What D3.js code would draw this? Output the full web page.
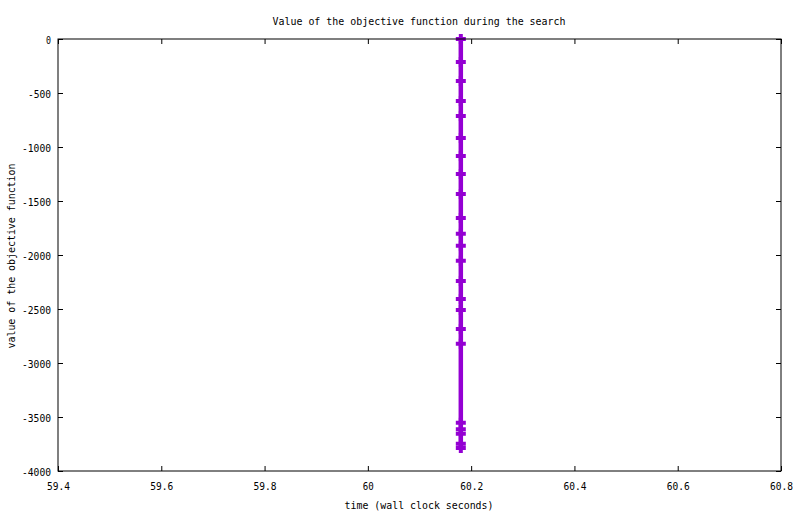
<!DOCTYPE html>
<html>
<head>
<meta charset="utf-8">
<script src="https://cdn.jsdelivr.net/npm/d3@7"></script>
<style>
  body { margin: 0; background: #fff; }
  text { font-family: "DejaVu Sans Mono", monospace; font-size: 11px; fill: #000; }
</style>
</head>
<body>
<script>
// objective value at each improvement, all recorded at ~60.18 s
var times = [60.18, 60.18, 60.18, 60.18, 60.18, 60.18, 60.18, 60.18, 60.18, 60.18, 60.18, 60.18,
             60.18, 60.18, 60.18, 60.18, 60.18, 60.18, 60.18, 60.18, 60.18, 60.18, 60.18];
var objective = [0, -213, -389, -574, -713, -917, -1083, -1250, -1435, -1657, -1803, -1914,
                 -2053, -2241, -2407, -2509, -2685, -2821, -3553, -3614, -3655, -3747, -3787];
var xTicks = [59.4, 59.6, 59.8, 60, 60.2, 60.4, 60.6, 60.8];
var yTicks = [0, -500, -1000, -1500, -2000, -2500, -3000, -3500, -4000];

var W = 800, H = 514;
// note: "top" is taken by window.top, so the plot box gets its own names
var plotL = 58, plotR = 781, plotT = 39, plotB = 471;

var svg = d3.select('body').append('svg')
            .attr('width', W)
            .attr('height', H);

var x = d3.scaleLinear().domain([59.4, 60.8]).range([plotL, plotR]);
var y = d3.scaleLinear().domain([-4000, 0]).range([plotB, plotT]);

var pts = objective.map(function (v, i) { return { t: times[i], v: v }; });

// squeeze the wide glyphs into gnuplot's 6px cells
var fit = function (sel) {
  sel.attr('textLength', function () { return this.textContent.length * 6 - 1; })
     .attr('lengthAdjust', 'spacingAndGlyphs');
};

// the data line and its + markers
svg.append('path')
   .datum(pts)
   .attr('fill', 'none')
   .attr('stroke', '#9400d3')
   .attr('stroke-width', 4.5)
   .attr('d', d3.line().x(function (d) { return x(d.t); }).y(function (d) { return y(d.v); }));

svg.selectAll('.pt')
   .data(pts)
   .enter().append('path')
   .attr('class', 'pt')
   .attr('fill', 'none')
   .attr('stroke', '#9400d3')
   .attr('stroke-width', 4)
   .attr('d', function (d) {
     var cx = x(d.t), cy = y(d.v);
     return 'M' + (cx - 5) + ',' + cy + 'H' + (cx + 5) + 'M' + cx + ',' + (cy - 5) + 'V' + (cy + 5);
   });

// border
svg.append('rect')
   .attr('x', plotL).attr('y', plotT)
   .attr('width', plotR - plotL).attr('height', plotB - plotT)
   .attr('fill', 'none').attr('stroke', '#000').attr('stroke-width', 1);

var fmtX = function (d) { return String(+d.toFixed(1)); };

var gx = svg.append('g').attr('transform', 'translate(0,' + plotB + ')')
            .call(d3.axisBottom(x).tickValues(xTicks).tickFormat(fmtX).tickSizeInner(-5).tickSizeOuter(0));
svg.append('g').attr('transform', 'translate(0,' + plotT + ')')
   .call(d3.axisTop(x).tickValues(xTicks).tickFormat('').tickSizeInner(-5).tickSizeOuter(0));
var gy = svg.append('g').attr('transform', 'translate(' + plotL + ',0)')
            .call(d3.axisLeft(y).tickValues(yTicks).tickFormat(d3.format('d')).tickSizeInner(-5).tickSizeOuter(0).tickPadding(7));
svg.append('g').attr('transform', 'translate(' + plotR + ',0)')
   .call(d3.axisRight(y).tickValues(yTicks).tickFormat('').tickSizeInner(-5).tickSizeOuter(0));

svg.selectAll('.domain').remove();
svg.selectAll('.tick line').attr('stroke', '#000');
svg.selectAll('.tick text').attr('font-family', null).attr('font-size', null);
gx.selectAll('.tick text').attr('dy', null).attr('y', 19).call(fit);
gy.selectAll('.tick text').attr('dy', null).attr('y', 4)
  .text(function (d) { return d === 0 ? '0' : '-' + Math.abs(d); }).call(fit);

// titles
svg.append('text')
   .attr('x', 419).attr('y', 24.5)
   .attr('text-anchor', 'middle')
   .text('Value of the objective function during the search')
   .call(fit);

svg.append('text')
   .attr('x', 419).attr('y', 508.5)
   .attr('text-anchor', 'middle')
   .text('time (wall clock seconds)')
   .call(fit);

svg.append('text')
   .attr('transform', 'translate(15,256) rotate(-90)')
   .attr('text-anchor', 'middle')
   .text('value of the objective function')
   .call(fit);
</script>
</body>
</html>
